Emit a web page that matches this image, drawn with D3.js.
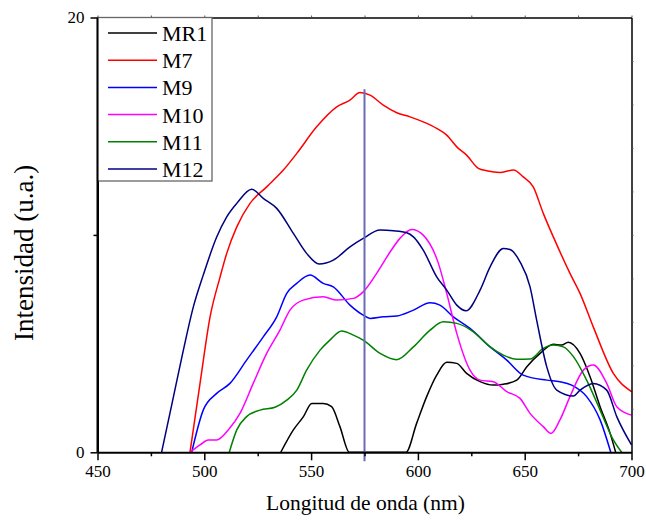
<!DOCTYPE html>
<html>
<head>
<meta charset="utf-8">
<script src="https://cdn.jsdelivr.net/npm/d3@7"></script>
<style>
  html, body { margin: 0; padding: 0; background: #fff; }
  svg { display: block; }
  text { font-family: "Liberation Serif", "Times New Roman", serif; fill: #000; }
</style>
</head>
<body>
<svg id="chart" width="646" height="521"></svg>
<script>
// ---- data (wavelength nm, intensity u.a.) ----
const seriesNames = ["MR1", "M7", "M9", "M10", "M11", "M12"];
const seriesColors = ["#000000", "#ff0000", "#0000ff", "#ff00ff", "#008000", "#000080"];

const mr1 = [[535.8,0],[541.7,1.03],[546.4,1.64],[550.3,2.25],[555.7,2.25],[559.6,2.1],[563.5,1.18],[567.9,0],
  [594.4,0],[599.4,1.33],[604.1,2.56],[608.8,3.55],[613.5,4.14],[618.2,4.09],[622.8,3.63],[629.1,3.25],[635.3,3.09],
  [640,3.13],[646.3,3.32],[651,3.94],[657.2,4.55],[663.4,4.97],[667.3,4.93],[670.4,5.06],[675.9,4.55],[680.6,3.48],
  [685.3,2.1],[690,0.87],[692.6,0]];
const m7 = [[493.3,0],[498,3.17],[502.7,6.23],[507.4,8.07],[510.5,9.15],[515.2,10.37],[521.4,11.45],[529.2,12.21],
  [537,12.98],[543.3,13.75],[552.6,14.97],[562,15.89],[568.2,16.2],[572.9,16.55],[577.6,16.43],[583.8,15.97],
  [590.1,15.62],[596.3,15.43],[602.5,15.2],[608.8,14.9],[613.5,14.59],[618.2,14.05],[622.8,13.67],[628.3,13.06],
  [632.2,12.95],[638.4,12.87],[644.7,12.98],[649.3,12.67],[654,12.21],[658.7,10.99],[663.4,9.91],[671.2,8.23],
  [675.9,7.31],[682.1,5.77],[691.5,3.63],[700,2.79]];
const m9 = [[494.1,0],[499.5,1.94],[505.8,2.71],[512,3.17],[519.8,4.24],[527.6,5.31],[533.9,6.23],[538.6,7.31],
  [543.3,7.77],[549.5,8.15],[555.7,7.77],[560.4,7.61],[568.2,6.77],[574.4,6.31],[577.6,6.16],[583.8,6.23],
  [590.1,6.27],[597.9,6.54],[605.7,6.88],[610.3,6.77],[616.6,6.23],[624.4,5.7],[633.8,4.85],[641.6,4.24],
  [649.3,3.55],[660.3,3.32],[666.5,3.25],[672,3.09],[679,2.56],[685.3,1.49],[690.3,0]];
const m10 = [[493.3,0],[498,0.34],[501.9,0.57],[505.8,0.57],[511.2,1.03],[516.7,1.79],[522.9,3.17],[529.2,4.55],
  [535.4,5.62],[540.1,6.54],[546.3,7.0],[555.7,7.15],[562,7.0],[569.8,7.08],[574.4,7.38],[580.7,8.23],[586.9,9.2],
  [591.6,9.84],[597.1,10.25],[602.5,9.99],[609.6,8.69],[613.5,7.31],[618.2,5.47],[624.4,3.78],[629.1,3.32],
  [635.3,3.25],[641.6,2.79],[647.8,2.48],[652.5,1.79],[658.7,1.18],[662.3,0.87],[666.5,1.49],[671.2,2.56],
  [677.5,3.78],[682.1,4.01],[688.4,3.17],[693.1,2.1],[700,1.71]];
const m11 = [[511.7,0],[515.2,1.03],[519.8,1.64],[526.1,1.94],[533.1,2.07],[538.6,2.4],[543.3,2.86],[547.9,3.78],
  [554.2,4.7],[558.8,5.16],[564.3,5.58],[569.8,5.39],[574.4,5.16],[582.3,4.55],[590.1,4.26],[597.9,4.85],
  [605.7,5.62],[611.9,6.0],[618.2,5.93],[626,5.54],[633.8,4.85],[640,4.47],[646.3,4.28],[652.5,4.29],[658.7,4.78],
  [663.4,4.93],[668.1,4.85],[672.8,4.4],[679,3.32],[685.3,1.94],[691.5,0.57],[695.4,0]];
const m12 = [[480,0],[485,2.3],[490.2,4.7],[494.9,6.7],[499.5,8.15],[505.8,9.9],[510.5,10.83],[515.2,11.45],
  [522.2,12.1],[527.6,11.68],[533.9,11.22],[541.7,10.07],[547.9,9.15],[553.8,8.66],[560.4,8.84],[568.2,9.45],
  [574.4,9.84],[582.3,10.22],[588.5,10.19],[594.8,10.1],[597.9,9.91],[602.5,9.3],[608.8,8.07],[613.5,7.46],
  [618.2,6.77],[622.5,6.51],[629.1,7.46],[633.8,8.53],[640,9.38],[643.1,9.33],[647.8,8.76],[652.5,7.61],
  [655.6,6.08],[660.3,3.94],[665,2.86],[672.8,2.59],[675.9,2.86],[682.1,3.17],[688.4,2.86],[693.1,1.64],[700,0.34]];
const seriesData = [mr1, m7, m9, m10, m11, m12];

const xTicksMajor = [450, 500, 550, 600, 650, 700];
const xTicksMinor = [475, 525, 575, 625, 675];
const yTickLabels = [0, 20];
const yTicksMinor = [10];
const markerNm = 575;
const markerTop = 16.7;

// ---- layout ----
const svg = d3.select("#chart");
const L = 97.5, R = 631.5, T = 17.5, B = 452.3;
const x = d3.scaleLinear().domain([450, 700]).range([L, R]);
const y = d3.scaleLinear().domain([0, 20]).range([B, T]);

// curves
const line = d3.line().x(d => x(d[0])).y(d => y(d[1])).curve(d3.curveMonotoneX);
const gLines = svg.append("g");
seriesData.forEach((s, i) => {
  gLines.append("path").datum(s).attr("d", line)
    .attr("fill", "none").attr("stroke", seriesColors[i]).attr("stroke-width", 1.5)
    .attr("stroke-linejoin", "round");
});

// marker line
svg.append("line")
  .attr("x1", x(markerNm)).attr("x2", x(markerNm))
  .attr("y1", y(markerTop)).attr("y2", B + 9)
  .attr("stroke", "#6b6bb8").attr("stroke-width", 2);

// ---- axes ----
// bottom
const gxb = svg.append("g").attr("transform", `translate(0,${B})`)
  .call(d3.axisBottom(x).tickValues(xTicksMajor).tickSize(8).tickSizeOuter(0).tickPadding(5));
gxb.select(".domain").attr("stroke-width", 2);
gxb.selectAll(".tick line").attr("stroke-width", 1.5);
gxb.selectAll(".tick text").style("font-size", "17px").style("font-family", "Liberation Serif");
const gxbm = svg.append("g").attr("transform", `translate(0,${B})`)
  .call(d3.axisBottom(x).tickValues(xTicksMinor).tickSize(4).tickFormat(""));
gxbm.select(".domain").remove();
gxbm.selectAll(".tick line").attr("stroke-width", 1.5);

// top
const gxt = svg.append("g").attr("transform", `translate(0,${T})`)
  .call(d3.axisTop(x).tickValues(xTicksMajor.concat(xTicksMinor)).tickSize(2).tickSizeOuter(0).tickFormat(""));
gxt.select(".domain").attr("stroke-width", 1.5);
gxt.selectAll(".tick line").attr("stroke", "#555");

// left
const gyl = svg.append("g").attr("transform", `translate(${L},0)`)
  .call(d3.axisLeft(y).tickValues(yTickLabels).tickSize(7).tickSizeOuter(0).tickPadding(6).tickFormat(d3.format("d")));
gyl.select(".domain").attr("stroke-width", 2);
gyl.selectAll(".tick line").attr("stroke-width", 1.5);
gyl.selectAll(".tick text").style("font-size", "17px").style("font-family", "Liberation Serif");
const gylm = svg.append("g").attr("transform", `translate(${L},0)`)
  .call(d3.axisLeft(y).tickValues(yTicksMinor).tickSize(4).tickFormat(""));
gylm.select(".domain").remove();
gylm.selectAll(".tick line").attr("stroke-width", 1.5);

// right
const gyr = svg.append("g").attr("transform", `translate(${R},0)`)
  .call(d3.axisRight(y).tickValues(d3.range(2, 20, 2)).tickSize(2).tickSizeOuter(0).tickFormat(""));
gyr.select(".domain").attr("stroke-width", 1.5);
gyr.selectAll(".tick line").attr("stroke", "#555");

// ---- titles ----
svg.append("text").attr("x", (L + R) / 2 + 1).attr("y", 510)
  .attr("text-anchor", "middle").style("font-size", "21.5px").text("Longitud de onda (nm)");
svg.append("text").attr("transform", `translate(33,${(T + B) / 2 + 18}) rotate(-90)`)
  .attr("text-anchor", "middle").style("font-size", "27px").text("Intensidad (u.a.)");

// ---- legend ----
const lg = svg.append("g");
lg.append("rect").attr("x", L).attr("y", T).attr("width", 114.5).attr("height", 163.5)
  .attr("fill", "#fff").attr("stroke", "#666").attr("stroke-width", 1.3);
seriesNames.forEach((n, i) => {
  const yy = 33 + i * 27.2;
  lg.append("line").attr("x1", 108).attr("x2", 157).attr("y1", yy).attr("y2", yy)
    .attr("stroke", seriesColors[i]).attr("stroke-width", 1.5);
  lg.append("text").attr("x", 162).attr("y", yy + 8).style("font-size", "22px").text(n);
});
// redraw left axis line on top of legend
svg.append("line").attr("x1", L).attr("x2", L).attr("y1", T).attr("y2", B)
  .attr("stroke", "#000").attr("stroke-width", 2);
</script>
</body>
</html>
